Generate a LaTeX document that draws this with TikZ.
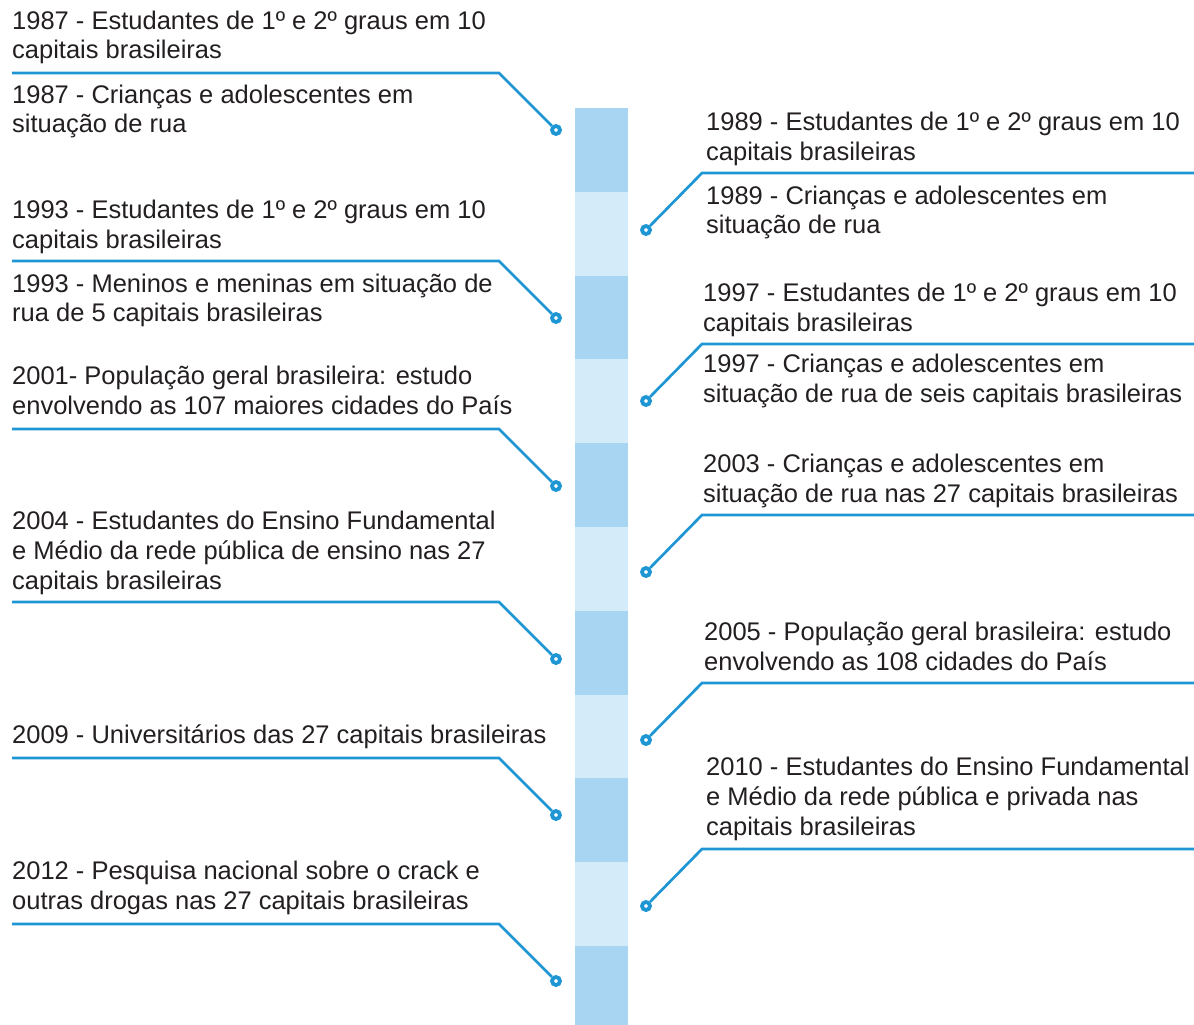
\documentclass[tikz,border=0pt]{standalone}
\usepackage{fontspec}
\setmainfont{Liberation Sans}
\definecolor{linec}{HTML}{1E96D3}
\definecolor{bardark}{HTML}{A8D5F2}
\definecolor{barlight}{HTML}{D4ECFA}
\definecolor{txt}{HTML}{231F20}
\begin{document}
\begin{tikzpicture}[x=1pt,y=-1pt,
  lbl/.style={anchor=base west,inner sep=0pt,align=left,text=txt,font=\fontsize{25.5}{29.8}\selectfont},
  conn/.style={draw=linec,line width=2.7pt,line join=miter},
  dotc/.style={circle,draw=linec,fill=white,line width=3.8pt,minimum size=8pt,inner sep=0pt}]
\useasboundingbox (0,0) rectangle (1194,1025);
% bar
\foreach \i in {0,...,10}{
  \pgfmathsetmacro{\ya}{108+83.8*\i}
  \pgfmathsetmacro{\yb}{min(108+83.8*(\i+1),1025)}
  \pgfmathparse{mod(\i,2)==0 ? "bardark" : "barlight"}
  \fill[\pgfmathresult] (575,\ya) rectangle (628,\yb);
}
% left texts (anchor = baseline of last line)
\node[lbl] (L1) at (12,59) {1987 - Estudantes de 1º e 2º graus em 10\\capitais brasileiras};
\node[lbl] (L2) at (12,132.8) {1987 - Crianças e adolescentes em\\situação de rua};
\node[lbl] (L3) at (12,248) {1993 - Estudantes de 1º e 2º graus em 10\\capitais brasileiras};
\node[lbl] (L4) at (12,321.8) {1993 - Meninos e meninas em situação de\\rua de 5 capitais brasileiras};
\node[lbl] (L5) at (12,414.5) {2001- População geral brasileira: estudo\\envolvendo as 107 maiores cidades do País};
\node[lbl] (L6) at (12,589) {2004 - Estudantes do Ensino Fundamental\\e Médio da rede pública de ensino nas 27\\capitais brasileiras};
\node[lbl] (L7) at (12,743) {2009 - Universitários das 27 capitais brasileiras};
\node[lbl] (L8) at (12,909.5) {2012 - Pesquisa nacional sobre o crack e\\outras drogas nas 27 capitais brasileiras};
% right texts
\node[lbl] (R1) at (706,160) {1989 - Estudantes de 1º e 2º graus em 10\\capitais brasileiras};
\node[lbl] (R2) at (706,233.8) {1989 - Crianças e adolescentes em\\situação de rua};
\node[lbl] (R3) at (703,331) {1997 - Estudantes de 1º e 2º graus em 10\\capitais brasileiras};
\node[lbl] (R4) at (703,402.3) {1997 - Crianças e adolescentes em\\situação de rua de seis capitais brasileiras};
\node[lbl] (R5) at (703,502.5) {2003 - Crianças e adolescentes em\\situação de rua nas 27 capitais brasileiras};
\node[lbl] (R6) at (704,670) {2005 - População geral brasileira: estudo\\envolvendo as 108 cidades do País};
\node[lbl] (R7) at (706,835.5) {2010 - Estudantes do Ensino Fundamental\\e Médio da rede pública e privada nas\\capitais brasileiras};
% left connectors
\foreach \n/\y in {1/73,2/261,3/429,4/602,5/758,6/924}{
  \coordinate (ls\n) at (12,\y);
  \coordinate (lb\n) at (499,\y);
  \node[dotc] (ld\n) at (556,\y+57) {};
  \draw[conn] (ls\n) -- (lb\n) -- (ld\n);
}
% right connectors
\foreach \n/\y in {1/173,2/344,3/515,4/683,5/849}{
  \coordinate (rs\n) at (1194,\y);
  \coordinate (rb\n) at (702,\y);
  \node[dotc] (rd\n) at (646,\y+57) {};
  \draw[conn] (rs\n) -- (rb\n) -- (rd\n);
}
\end{tikzpicture}
\end{document}
